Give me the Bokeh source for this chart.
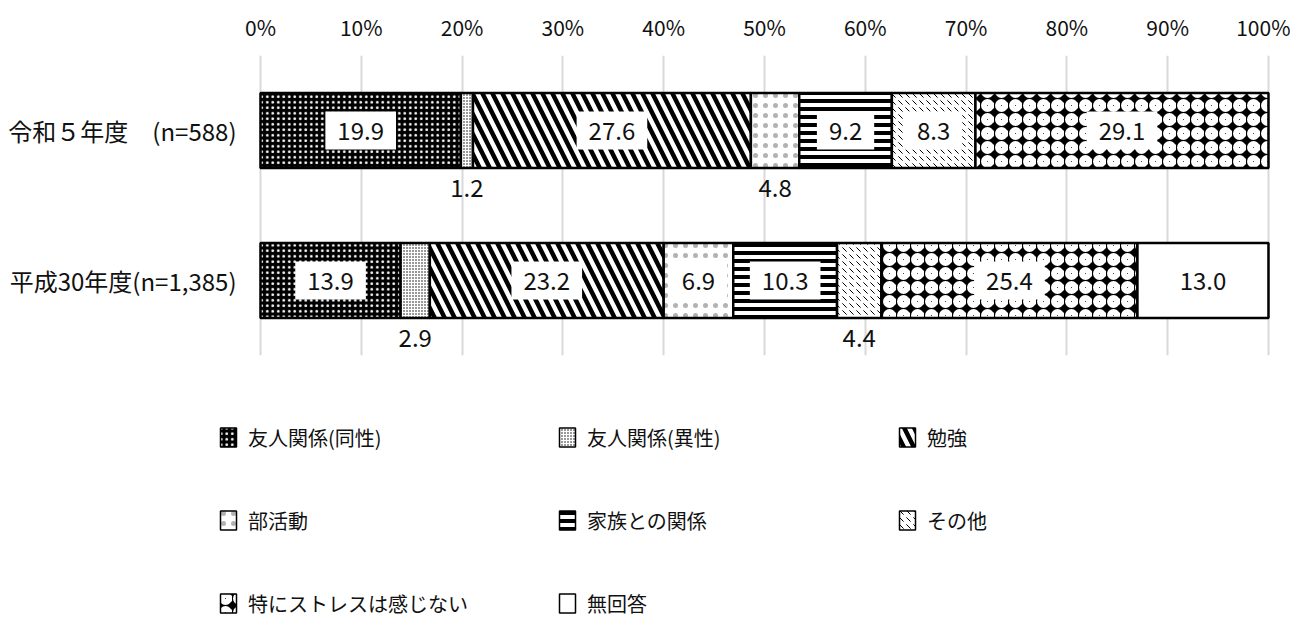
from bokeh.plotting import figure
from bokeh.models import (ColumnDataSource, Range1d, FactorRange, FixedTicker,
                          PrintfTickFormatter, Legend, LegendItem)
from bokeh.layouts import column
from bokeh.embed import file_html
from bokeh.resources import INLINE
from bokeh.core.properties import value

# ---------------- data ----------------
categories = ["令和５年度　(n=588)", "平成30年度(n=1,385)"]
series_names = ["友人関係(同性)", "友人関係(異性)", "勉強", "部活動",
                "家族との関係", "その他", "特にストレスは感じない", "無回答"]
reiwa5 = [19.9, 1.2, 27.6, 4.8, 9.2, 8.3, 29.1, 0.0]
heisei30 = [13.9, 2.9, 23.2, 6.9, 10.3, 4.4, 25.4, 13.0]
x_ticks = [0, 10, 20, 30, 40, 50, 60, 70, 80, 90, 100]

FONT = "Noto Sans CJK JP"
TXT = "#111111"


def style(i):
    s = [
        dict(fill_color="black", hatch_pattern=".", hatch_color="white", hatch_scale=5.5, hatch_weight=1),
        dict(fill_color="white", hatch_pattern=".", hatch_color="black", hatch_scale=3, hatch_weight=1),
        dict(fill_color="white", hatch_pattern="\\", hatch_color="black", hatch_scale=20, hatch_weight=4.5),
        dict(fill_color="white", hatch_pattern=".", hatch_color="black", hatch_scale=10, hatch_alpha=0.3),
        dict(fill_color="white", hatch_pattern="-", hatch_color="black", hatch_scale=8, hatch_weight=4),
        dict(fill_color="white", hatch_pattern="`", hatch_color="black", hatch_scale=7, hatch_weight=1),
        dict(fill_color="black", hatch_pattern="o", hatch_color="white", hatch_scale=14, hatch_weight=6),
        dict(fill_color="white"),
    ]
    return s[i]


rows = [reiwa5, heisei30]
y_factors = [categories[1], categories[0]]

# ---------------- chart ----------------
# frame starts at x=210 so that the legend panel below (aligned) can start at 218
p = figure(width=1290, height=360,
           x_range=Range1d(-4.96, 100.3),
           y_range=FactorRange(factors=y_factors),
           x_axis_location="above",
           output_backend="svg", toolbar_location=None,
           min_border_left=210, min_border_right=19,
           min_border_top=55, min_border_bottom=5)
p.outline_line_color = None
p.ygrid.grid_line_color = None
p.xgrid.grid_line_color = "#d9d9d9"
p.xgrid.grid_line_width = 2
p.xgrid.ticker = FixedTicker(ticks=x_ticks)

p.xaxis.ticker = FixedTicker(ticks=x_ticks)
p.xaxis.formatter = PrintfTickFormatter(format="%d%%")
p.xaxis.axis_line_color = None
p.xaxis.major_tick_line_color = None
p.xaxis.minor_tick_line_color = None
p.xaxis.major_label_text_font = FONT
p.xaxis.major_label_text_font_size = "21px"
p.xaxis.major_label_text_color = TXT
p.xaxis.major_label_standoff = 8

p.yaxis.axis_line_color = None
p.yaxis.major_tick_line_color = None
p.yaxis.minor_tick_line_color = None
p.yaxis.major_label_text_font = FONT
p.yaxis.major_label_text_font_size = "24px"
p.yaxis.major_label_text_color = TXT
p.yaxis.major_label_standoff = -32

# cumulative positions (100% stacked)
lefts, rights = [], []
for r in rows:
    tot = sum(r)
    c = 0.0
    L, R = [], []
    for v in r:
        L.append(c / tot * 100)
        c += v
        R.append(c / tot * 100)
    lefts.append(L)
    rights.append(R)

# legend panel figure (same ranges, no axes)
lf = figure(width=1290, height=256, x_range=p.x_range, y_range=FactorRange(factors=y_factors),
            x_axis_type=None, y_axis_type=None,
            output_backend="svg", toolbar_location=None,
            min_border_left=0, min_border_right=0, min_border_top=0, min_border_bottom=0)
lf.grid.visible = False
lf.outline_line_color = None

in_lab = dict(x=[], y=[], text=[])
out_lab = dict(x=[], y=[], text=[])
legend_renderers = []
for i, name in enumerate(series_names):
    ys, ls, rs = [], [], []
    for k, r in enumerate(rows):
        v = r[i]
        if v <= 0:
            continue
        ys.append(categories[k])
        ls.append(lefts[k][i])
        rs.append(rights[k][i])
        tgt = in_lab if v >= 5 else out_lab
        tgt["x"].append((lefts[k][i] + rights[k][i]) / 2)
        tgt["y"].append(categories[k])
        tgt["text"].append(f"{v:.1f}")
    src = ColumnDataSource(dict(y=ys, left=ls, right=rs))
    p.hbar(y="y", left="left", right="right", height=0.5, source=src,
           line_color="black", line_width=2.5, **style(i))
    # hidden twin in the legend panel, used only for the legend swatch
    lr = lf.hbar(y="y", left="left", right="right", height=0.5, source=src,
                 line_color="black", line_width=1.5, visible=False, **style(i))
    legend_renderers.append(lr)

p.text(x="x", y="y", text="text", source=ColumnDataSource(in_lab),
       text_align="center", text_baseline="middle",
       text_font=value(FONT), text_font_size="24px", text_color=TXT,
       background_fill_color="white", padding=(12, 10))
p.text(x="x", y="y", text="text", source=ColumnDataSource(out_lab),
       text_align="center", text_baseline="middle", y_offset=57,
       text_font=value(FONT), text_font_size="24px", text_color=TXT)

# ---------------- legend: three columns ----------------
items = [LegendItem(label=n, renderers=[r]) for n, r in zip(series_names, legend_renderers)]
cols = [[items[0], items[3], items[6]], [items[1], items[4], items[7]], [items[2], items[5]]]
locs = [(8, -1.5), (347, -1.5), (687, 81.5)]
for its, loc in zip(cols, locs):
    lg = Legend(items=its, location=loc, orientation="vertical",
                glyph_width=20, glyph_height=24, label_height=29, label_standoff=10,
                spacing=54, padding=0, margin=0,
                label_text_font=FONT, label_text_font_size="20px", label_text_color=TXT,
                border_line_color=None, background_fill_alpha=0)
    lf.add_layout(lg, "center")

layout = column(p, lf)
open("out.html", "w").write(file_html(layout, INLINE))
